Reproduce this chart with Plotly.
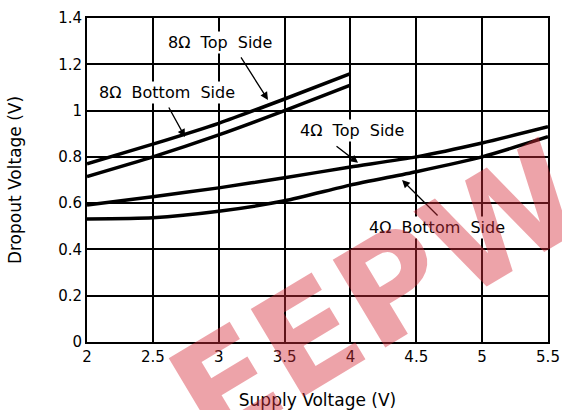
import plotly.graph_objects as go

# Data
x_8 = [2.0, 2.5, 3.0, 3.5, 4.0]
top_8 = [0.77, 0.855, 0.945, 1.05, 1.16]
bot_8 = [0.715, 0.80, 0.895, 1.0, 1.11]

x_4 = [2.0, 2.5, 3.0, 3.5, 4.0, 4.5, 5.0, 5.5]
top_4 = [0.592, 0.628, 0.666, 0.71, 0.756, 0.80, 0.86, 0.93]
bot_4 = [0.532, 0.537, 0.565, 0.61, 0.678, 0.736, 0.80, 0.887]

x_ticks = [2, 2.5, 3, 3.5, 4, 4.5, 5, 5.5]
x_tick_labels = ["2", "2.5", "3", "3.5", "4", "4.5", "5", "5.5"]
y_ticks = [0, 0.2, 0.4, 0.6, 0.8, 1.0, 1.2, 1.4]
y_tick_labels = ["0", "0.2", "0.4", "0.6", "0.8", "1", "1.2", "1.4"]

labels = ["8\u03a9  Top  Side", "8\u03a9  Bottom  Side", "4\u03a9  Top  Side", "4\u03a9  Bottom  Side"]
label_pos = [(3.01, 1.292), (2.607, 1.076), (4.012, 0.916), (4.658, 0.493)]
arrow_tail = [(3.162, 1.236), (2.615, 1.02), (3.883, 0.851), (4.673, 0.540)]
arrow_head = [(3.374, 1.046), (2.744, 0.886), (4.058, 0.774), (4.392, 0.700)]

FONT = "DejaVu Sans"

fig = go.Figure()
for xs, ys in [(x_8, top_8), (x_8, bot_8), (x_4, top_4), (x_4, bot_4)]:
    fig.add_trace(go.Scatter(x=xs, y=ys, mode="lines",
                             line=dict(color="black", width=3.5, shape="spline", smoothing=0.6),
                             showlegend=False, hoverinfo="skip"))

anns = []
for t, (lx, ly) in zip(labels, label_pos):
    anns.append(dict(x=lx, y=ly, xref="x", yref="y", text=t, showarrow=False,
                     font=dict(family=FONT, size=16, color="black"), bgcolor="white"))
for (tx, ty), (hx, hy) in zip(arrow_tail, arrow_head):
    anns.append(dict(x=hx, y=hy, ax=tx, ay=ty, xref="x", yref="y", axref="x", ayref="y",
                     text="", showarrow=True, arrowhead=2, arrowsize=1.2, arrowwidth=1.3, arrowcolor="black"))
# watermark
anns.append(dict(x=0.63, y=0.145, xref="paper", yref="paper", xanchor="center", yanchor="middle",
                 text="<b>EEPW</b>", showarrow=False, textangle=-31,
                 font=dict(family="DejaVu Sans", size=140, color="rgba(215,45,60,0.44)")))

fig.update_layout(
    width=562, height=410,
    margin=dict(l=87, r=14, t=18, b=68),
    paper_bgcolor="white", plot_bgcolor="white",
    font=dict(family=FONT, size=15, color="black"),
    annotations=anns,
    xaxis=dict(range=[2, 5.5], tickvals=x_ticks, ticktext=x_tick_labels, showgrid=True, gridcolor="black", gridwidth=1.5,
               zeroline=False, showline=True, linecolor="black", linewidth=2, mirror=True, ticks="", automargin=False,
               title=dict(text="Supply Voltage (V)", font=dict(size=17), standoff=29), tickfont=dict(size=15)),
    yaxis=dict(range=[0, 1.4], tickvals=y_ticks, ticktext=y_tick_labels, showgrid=True, gridcolor="black", gridwidth=1.5,
               zeroline=False, showline=True, linecolor="black", linewidth=2, mirror=True, ticks="", automargin=False,
               title=dict(text="Dropout Voltage (V)", font=dict(size=17), standoff=32), tickfont=dict(size=15)),
)

fig.write_html("out.html", config={"displayModeBar": False},
               post_script="document.body.style.margin='0';document.body.style.overflow='hidden';")
